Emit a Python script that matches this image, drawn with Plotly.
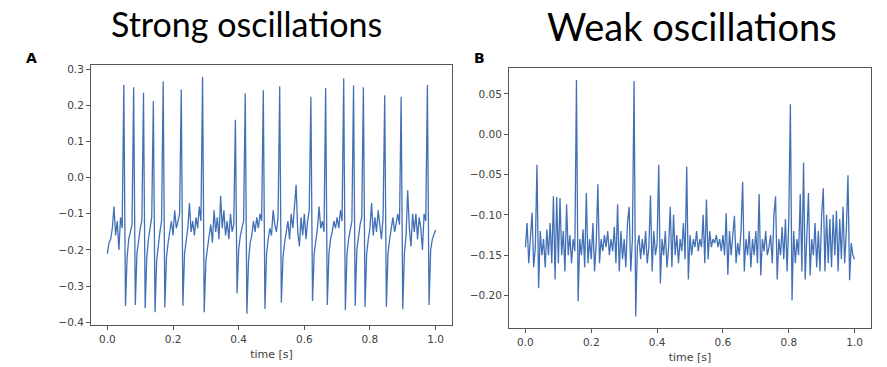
import numpy as np
import plotly.graph_objects as go

# ---------------- data ----------------
sample_step = 0.005  # seconds between samples

strong_signal = [
    -0.21, -0.18, -0.17, -0.14, -0.08, -0.16, -0.12, -0.2, -0.11, -0.14,
    0.257, -0.355, -0.22, -0.17, -0.15, -0.13,
    0.25, -0.352, -0.21, -0.17, -0.14, -0.12,
    0.235, -0.361, -0.22, -0.17, -0.14, -0.11,
    0.212, -0.372, -0.23, -0.18, -0.15, -0.12,
    0.266, -0.359,
    -0.22, -0.18, -0.15, -0.12, -0.16, -0.09, -0.14, -0.12, -0.10,
    0.244, -0.354,
    -0.21, -0.17, -0.14, -0.07, -0.15, -0.12, -0.16, -0.11, -0.14, -0.08, -0.12,
    0.278, -0.372,
    -0.23, -0.19, -0.16, -0.13, -0.18, -0.09, -0.15, -0.11, -0.17, -0.05,
    -0.14, -0.09, -0.16, -0.12, -0.17, -0.1, -0.15, -0.13,
    0.16, -0.32,
    -0.2, -0.16, -0.14, -0.12,
    0.233, -0.376,
    -0.23, -0.18, -0.16, -0.12, -0.15, -0.11, -0.14, -0.1, -0.12,
    0.242, -0.363,
    -0.21, -0.17, -0.14, -0.16, -0.09, -0.13, -0.15, -0.11,
    0.253, -0.345,
    -0.22, -0.18, -0.15, -0.12, -0.17, -0.1, -0.14, -0.09, -0.02,
    -0.15, -0.19, -0.11, -0.16, -0.1, -0.17, -0.12, -0.09,
    0.224, -0.341,
    -0.21, -0.17, -0.14, -0.08, -0.14, -0.12, -0.15,
    0.248, -0.352,
    -0.21, -0.17, -0.15, -0.12, -0.14, -0.11, -0.14, -0.09, -0.12,
    0.275, -0.367,
    -0.21, -0.17, -0.14, -0.12,
    0.255, -0.354,
    -0.2, -0.16, -0.13, -0.11,
    0.25, -0.358,
    -0.21, -0.17, -0.14, -0.07, -0.16, -0.11, -0.15, -0.09, -0.13, -0.17, -0.11,
    0.228, -0.357,
    -0.21, -0.17, -0.14, -0.11, -0.15, -0.12, -0.1, -0.13,
    0.224, -0.364,
    -0.21, -0.16, -0.035, -0.14, -0.19, -0.1, -0.15, -0.1, -0.17, -0.11,
    -0.14, -0.2, -0.1, -0.12,
    0.256, -0.352,
    -0.2, -0.17, -0.16, -0.145,
]

weak_signal = [
    -0.14, -0.11, -0.16, -0.13, -0.097, -0.165, -0.14, -0.038, -0.191, -0.12,
    -0.15, -0.13, -0.165, -0.118, -0.15, -0.11, -0.16, -0.077, -0.18, -0.078,
    -0.16, -0.079, -0.15, -0.12, -0.17, -0.087, -0.15, -0.125, -0.16, -0.13,
    -0.145, 0.067, -0.207, -0.13, -0.15, -0.118, -0.165, -0.073, -0.16, -0.13,
    -0.155, -0.11, -0.17, -0.135, -0.062, -0.16, -0.13, -0.145, -0.125, -0.14,
    -0.12, -0.15, -0.13, -0.145, -0.115, -0.16, -0.087, -0.17, -0.12, -0.155,
    -0.13, -0.165, -0.11, -0.09, -0.17, -0.13, 0.066, -0.226, -0.14, -0.125,
    -0.155, -0.13, -0.15, -0.12, -0.16, -0.14, -0.076, -0.17, -0.12, -0.15,
    -0.135, -0.038, -0.185, -0.13, -0.15, -0.12, -0.165, -0.14, -0.09, -0.165,
    -0.1, -0.15, -0.125, -0.16, -0.13, -0.145, -0.11, -0.155, -0.04, -0.18,
    -0.125, -0.15, -0.13, -0.14, -0.12, -0.145, -0.13, -0.14, -0.1, -0.16,
    -0.081, -0.155, -0.12, -0.14, -0.13, -0.135, -0.125, -0.14, -0.13, -0.145,
    -0.125, -0.15, -0.098, -0.174, -0.12, -0.15, -0.13, -0.101, -0.16, -0.135,
    -0.15, -0.12, -0.059, -0.17, -0.13, -0.15, -0.12, -0.165, -0.13, -0.15,
    -0.12, -0.16, -0.074, -0.175, -0.13, -0.145, -0.12, -0.15, -0.14, -0.125,
    -0.16, -0.1, -0.077, -0.18, -0.13, -0.15, -0.115, -0.155, -0.105, -0.17,
    -0.11, 0.037, -0.206, -0.12, -0.16, -0.13, -0.15, -0.074, -0.17, -0.035,
    -0.18, -0.12, -0.073, -0.175, -0.13, -0.15, -0.11, -0.165, -0.12, -0.17,
    -0.1, -0.067, -0.17, -0.1, -0.16, -0.105, -0.165, -0.1, -0.15, -0.095,
    -0.17, -0.105, -0.155, -0.09, -0.16, -0.12, -0.051, -0.181, -0.135, -0.15,
    -0.155,
]

panel_titles = ["Strong oscillations", "Weak oscillations"]
panel_letters = ["A", "B"]
x_label = "time [s]"

t_strong = np.arange(len(strong_signal)) * sample_step
t_weak = np.arange(len(weak_signal)) * sample_step

# ---------------- figure ----------------
W, H = 887, 367
line_color = "#4270b6"
axis_color = "#555555"
tick_font = dict(family="DejaVu Sans", size=10.5, color="#404040")

fig = go.Figure()
fig.add_trace(go.Scatter(x=t_strong, y=strong_signal, mode="lines",
                         line=dict(color=line_color, width=1.3),
                         xaxis="x", yaxis="y", showlegend=False))
fig.add_trace(go.Scatter(x=t_weak, y=weak_signal, mode="lines",
                         line=dict(color=line_color, width=1.3),
                         xaxis="x2", yaxis="y2", showlegend=False))

def pad_range(vals, frac=0.05):
    lo, hi = min(vals), max(vals)
    d = (hi - lo) * frac
    return [lo - d, hi + d]

common_axis = dict(showline=True, mirror=True, linecolor=axis_color, linewidth=1,
                   ticks="outside", ticklen=4, tickcolor=axis_color, tickwidth=1,
                   showgrid=False, zeroline=False, tickfont=tick_font)

xaxis_common = dict(common_axis, range=[-0.05, 1.05], dtick=0.2, tick0=0,
                    tickformat=".1f",
                    title=dict(text=x_label, font=dict(family="DejaVu Sans", size=11, color="#404040"),
                               standoff=6))

fig.update_layout(
    width=W, height=H,
    margin=dict(l=0, r=0, t=0, b=0),
    paper_bgcolor="white", plot_bgcolor="white",
    xaxis=dict(xaxis_common, domain=[91 / W, 452 / W], anchor="y"),
    yaxis=dict(common_axis, domain=[1 - 327 / H, 1 - 64 / H], anchor="x",
               range=pad_range(strong_signal), dtick=0.1, tick0=0, tickformat=".1f"),
    xaxis2=dict(xaxis_common, domain=[509 / W, 871 / W], anchor="y2"),
    yaxis2=dict(common_axis, domain=[1 - 330 / H, 1 - 67 / H], anchor="x2",
                range=pad_range(weak_signal), dtick=0.05, tick0=0, tickformat=".2f"),
)

fig.add_annotation(text=panel_titles[0], x=247 / W, y=1 - 22 / H, xref="paper", yref="paper",
                   showarrow=False, font=dict(family="Lato", size=34, color="black"),
                   xanchor="center", yanchor="middle")
fig.add_annotation(text=panel_titles[1], x=692 / W, y=1 - 24 / H, xref="paper", yref="paper",
                   showarrow=False, font=dict(family="Lato", size=38, color="black"),
                   xanchor="center", yanchor="middle")

letter_font = dict(family="DejaVu Sans", size=14, color="black")
fig.add_annotation(text="<b>%s</b>" % panel_letters[0], x=31 / W, y=1 - 57 / H,
                   xref="paper", yref="paper", showarrow=False, font=letter_font,
                   xanchor="center", yanchor="middle")
fig.add_annotation(text="<b>%s</b>" % panel_letters[1], x=479 / W, y=1 - 57 / H,
                   xref="paper", yref="paper", showarrow=False, font=letter_font,
                   xanchor="center", yanchor="middle")

fig.write_html("out.html")
